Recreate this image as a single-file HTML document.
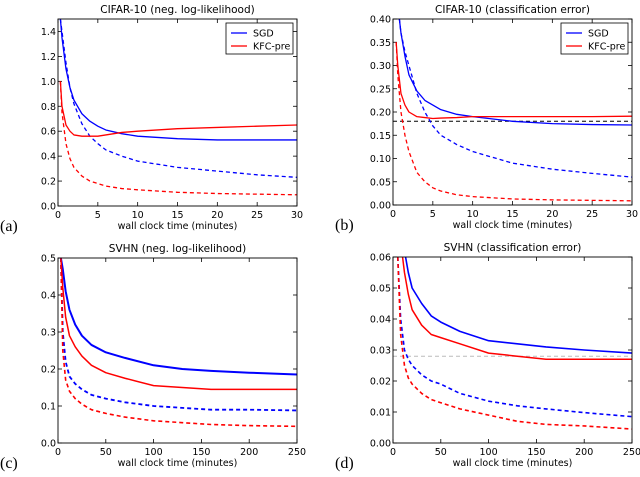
<!DOCTYPE html>
<html><head><meta charset="utf-8"><style>
body{margin:0;background:#fff;width:640px;height:472px;overflow:hidden}
svg{font-family:"DejaVu Sans","Liberation Sans",sans-serif}
</style></head><body>
<svg id="fig" width="640" height="472" xmlns="http://www.w3.org/2000/svg"></svg>
<script>
// Panel a data
const aX=[0.3,0.5,1,1.5,2,3,4,5,6,8,10,15,20,25,30];
const aSgd=[1.5,1.35,1.1,0.95,0.85,0.74,0.68,0.64,0.61,0.58,0.56,0.54,0.53,0.53,0.53];
const aSgdTr=[1.5,1.4,1.15,0.95,0.82,0.66,0.56,0.5,0.45,0.4,0.36,0.31,0.28,0.25,0.23];
const aKfc=[1.0,0.8,0.65,0.6,0.57,0.56,0.56,0.56,0.57,0.59,0.6,0.62,0.63,0.64,0.65];
const aKfcTr=[1.0,0.75,0.5,0.38,0.31,0.24,0.2,0.18,0.16,0.14,0.13,0.11,0.1,0.095,0.09];
const aYTicks=[0,0.2,0.4,0.6,0.8,1.0,1.2,1.4];
const cifarXTicks=[0,5,10,15,20,25,30];
// Panel b data
const bXs=[0.8,1,1.5,2,3,4,5,6,8,10,15,20,25,30];
const bSgd=[0.40,0.37,0.32,0.28,0.245,0.225,0.215,0.205,0.195,0.19,0.18,0.175,0.173,0.172];
const bSgdTr=[0.4,0.37,0.33,0.3,0.24,0.2,0.17,0.15,0.13,0.115,0.09,0.077,0.068,0.06];
const bXk=[0.4,0.6,1,1.5,2,3,4,5,6,8,10,15,20,25,30];
const bKfc=[0.35,0.3,0.24,0.215,0.2,0.19,0.188,0.186,0.187,0.188,0.19,0.19,0.19,0.19,0.191];
const bKfcTr=[0.35,0.28,0.2,0.15,0.115,0.07,0.05,0.037,0.03,0.022,0.018,0.013,0.011,0.01,0.009];
const bYTicks=[0,0.05,0.1,0.15,0.2,0.25,0.3,0.35,0.4];
const bRef=[0.18];
// Panel c data
const cX=[3,5,8,12,18,25,35,50,70,100,130,160,200,250];
const cSgd=[0.5,0.47,0.41,0.36,0.32,0.29,0.265,0.245,0.23,0.21,0.2,0.195,0.19,0.185];
const cKfc=[0.5,0.42,0.34,0.29,0.26,0.235,0.21,0.19,0.175,0.155,0.15,0.145,0.145,0.145];
const cSgdTr=[0.5,0.3,0.22,0.18,0.16,0.145,0.13,0.12,0.11,0.1,0.095,0.09,0.09,0.088];
const cKfcTr=[0.5,0.25,0.17,0.14,0.12,0.105,0.09,0.08,0.07,0.06,0.055,0.05,0.047,0.045];
const cYTicks=[0,0.1,0.2,0.3,0.4,0.5];
const svhnXTicks=[0,50,100,150,200,250];
// Panel d data
const dX=[5,8,12,16,20,30,40,50,70,100,130,160,200,250];
const dSgd=[0.09,0.075,0.062,0.055,0.05,0.045,0.041,0.039,0.036,0.033,0.032,0.031,0.030,0.029];
const dKfc=[0.08,0.065,0.055,0.048,0.043,0.038,0.035,0.034,0.032,0.029,0.028,0.027,0.027,0.027];
const dSgdTr=[0.06,0.04,0.03,0.027,0.025,0.022,0.02,0.019,0.016,0.0135,0.012,0.011,0.0098,0.0085];
const dKfcTr=[0.06,0.035,0.025,0.021,0.019,0.016,0.014,0.013,0.011,0.009,0.007,0.006,0.0055,0.0045];
const dYTicks=[0,0.01,0.02,0.03,0.04,0.05,0.06];
const dRef=[0.028];

const NS="http://www.w3.org/2000/svg";
const fig=document.getElementById('fig');
function mk(tag,attrs,parent){const e=document.createElementNS(NS,tag);for(const k in attrs)e.setAttribute(k,attrs[k]);(parent||fig).appendChild(e);return e;}

function panel(p){
  const g=mk('g',{});
  
  
  const sx=v=>p.l+(v-p.x0)/(p.x1-p.x0)*(p.r-p.l);
  const sy=v=>p.b-(v-p.y0)/(p.y1-p.y0)*(p.b-p.t);
  const cid='clip-'+p.name;
  const cp=mk('clipPath',{id:cid},g);mk('rect',{x:p.l,y:p.t,width:p.r-p.l,height:p.b-p.t},cp);
  p.yt.forEach(v=>{
    const y=sy(v);
    mk('line',{x1:p.l,x2:p.l+4,y1:y,y2:y,stroke:'#000','stroke-width':0.8},g);
    mk('line',{x1:p.r,x2:p.r-4,y1:y,y2:y,stroke:'#000','stroke-width':0.8},g);
    const t=mk('text',{x:p.l-2,y:y+3.5,'font-size':9.5,'text-anchor':'end',fill:'#000'},g);
    t.textContent=v.toFixed(p.yd);
    
    
  });
  p.xt.forEach(v=>{
    const x=sx(v);
    mk('line',{x1:x,x2:x,y1:p.b,y2:p.b-4,stroke:'#000','stroke-width':0.8},g);
    mk('line',{x1:x,x2:x,y1:p.t,y2:p.t+4,stroke:'#000','stroke-width':0.8},g);
    const t=mk('text',{x:x,y:p.b+12,'font-size':9.5,'text-anchor':'middle',fill:'#000'},g);
    t.textContent=v;
    
    
  });
  const cg=mk('g',{'clip-path':'url(#'+cid+')'},g);
  (p.refs||[]).forEach(r=>{
    const ln=mk('line',{x1:p.l,x2:p.r,y1:sy(r.v),y2:sy(r.v),stroke:r.c,'stroke-width':1,'stroke-dasharray':'4,3'},cg);
    
    
  });
  p.series.forEach(s=>{
    const d=s.x.map((v,i)=>(i?'L':'M')+sx(v).toFixed(2)+','+sy(s.y[i]).toFixed(2)).join('');
    const path=mk('path',{d:d,fill:'none',stroke:s.c,'stroke-width':s.w||1.3,'stroke-dasharray':s.dash?'4,3':'none','stroke-linejoin':'round'},cg);
    
    
  });
  mk('rect',{x:p.l,y:p.t,width:p.r-p.l,height:p.b-p.t,fill:'none',stroke:'#000','stroke-width':0.9},g);
  const title=mk('text',{x:(p.l+p.r)/2,y:p.t-6,'font-size':10.5,'text-anchor':'middle'},g);
  title.textContent=p.title;
  
  
  const xl=mk('text',{x:(p.l+p.r)/2,y:p.b+23,'font-size':9.5,'text-anchor':'middle'},g);
  xl.textContent='wall clock time (minutes)';
  
  
  const lab=mk('text',{x:p.lx,y:p.b+25,'font-size':16,'font-family':'Liberation Serif,serif'},g);
  lab.textContent=p.label;
  
  
  if(p.legend){
    const lg=mk('g',{},g);
    
    
    const lx=p.r-71,ly=p.t+4;
    mk('rect',{x:lx,y:ly,width:67,height:31,fill:'#fff',stroke:'#000','stroke-width':0.8},lg);
    [['SGD','#00f'],['KFC-pre','#f00']].forEach((e,i)=>{
      const y=ly+10+i*13;
      const l=mk('line',{x1:lx+5,x2:lx+21,y1:y,y2:y,stroke:e[1],'stroke-width':1.3},lg);
      
      
      const t=mk('text',{x:lx+27,y:y+3.5,'font-size':9.5},lg);
      t.textContent=e[0];
      
      
    });
  }
}
panel({name:'panel-a',title:'CIFAR-10 (neg. log-likelihood)',label:'(a)',lx:0,l:58,r:297,t:19,b:206,x0:0,x1:30,y0:0,y1:1.5,xt:cifarXTicks,yt:aYTicks,yd:1,legend:true,
 series:[{x:aX,y:aSgdTr,c:'#00f',dash:1,n:'sgd-train'},{x:aX,y:aKfcTr,c:'#f00',dash:1,n:'kfc-train'},{x:aX,y:aSgd,c:'#00f',n:'sgd-test'},{x:aX,y:aKfc,c:'#f00',n:'kfc-test'}]});
panel({name:'panel-b',title:'CIFAR-10 (classification error)',label:'(b)',lx:335,l:393,r:632,t:19,b:205,x0:0,x1:30,y0:0,y1:0.4,xt:cifarXTicks,yt:bYTicks,yd:2,legend:true,refs:[{v:bRef[0],c:'#000'}],
 series:[{x:bXs,y:bSgdTr,c:'#00f',dash:1,n:'sgd-train'},{x:bXk,y:bKfcTr,c:'#f00',dash:1,n:'kfc-train'},{x:bXs,y:bSgd,c:'#00f',n:'sgd-test'},{x:bXk,y:bKfc,c:'#f00',n:'kfc-test'}]});
panel({name:'panel-c',title:'SVHN (neg. log-likelihood)',label:'(c)',lx:0,l:58,r:297,t:258,b:443,x0:0,x1:250,y0:0,y1:0.5,xt:svhnXTicks,yt:cYTicks,yd:1,
 series:[{x:cX,y:cSgdTr,c:'#00f',dash:1,n:'sgd-train',w:1.8},{x:cX,y:cKfcTr,c:'#f00',dash:1,n:'kfc-train',w:1.6},{x:cX,y:cSgd,c:'#00f',n:'sgd-test',w:2},{x:cX,y:cKfc,c:'#f00',n:'kfc-test',w:1.5}]});
panel({name:'panel-d',title:'SVHN (classification error)',label:'(d)',lx:335,l:393,r:632,t:257,b:443,x0:0,x1:250,y0:0,y1:0.06,xt:svhnXTicks,yt:dYTicks,yd:2,refs:[{v:dRef[0],c:'#bbb'}],
 series:[{x:dX,y:dSgdTr,c:'#00f',dash:1,n:'sgd-train',w:1.6},{x:dX,y:dKfcTr,c:'#f00',dash:1,n:'kfc-train',w:1.6},{x:dX,y:dSgd,c:'#00f',n:'sgd-test',w:1.6},{x:dX,y:dKfc,c:'#f00',n:'kfc-test',w:1.5}]});
</script>
</body></html>
